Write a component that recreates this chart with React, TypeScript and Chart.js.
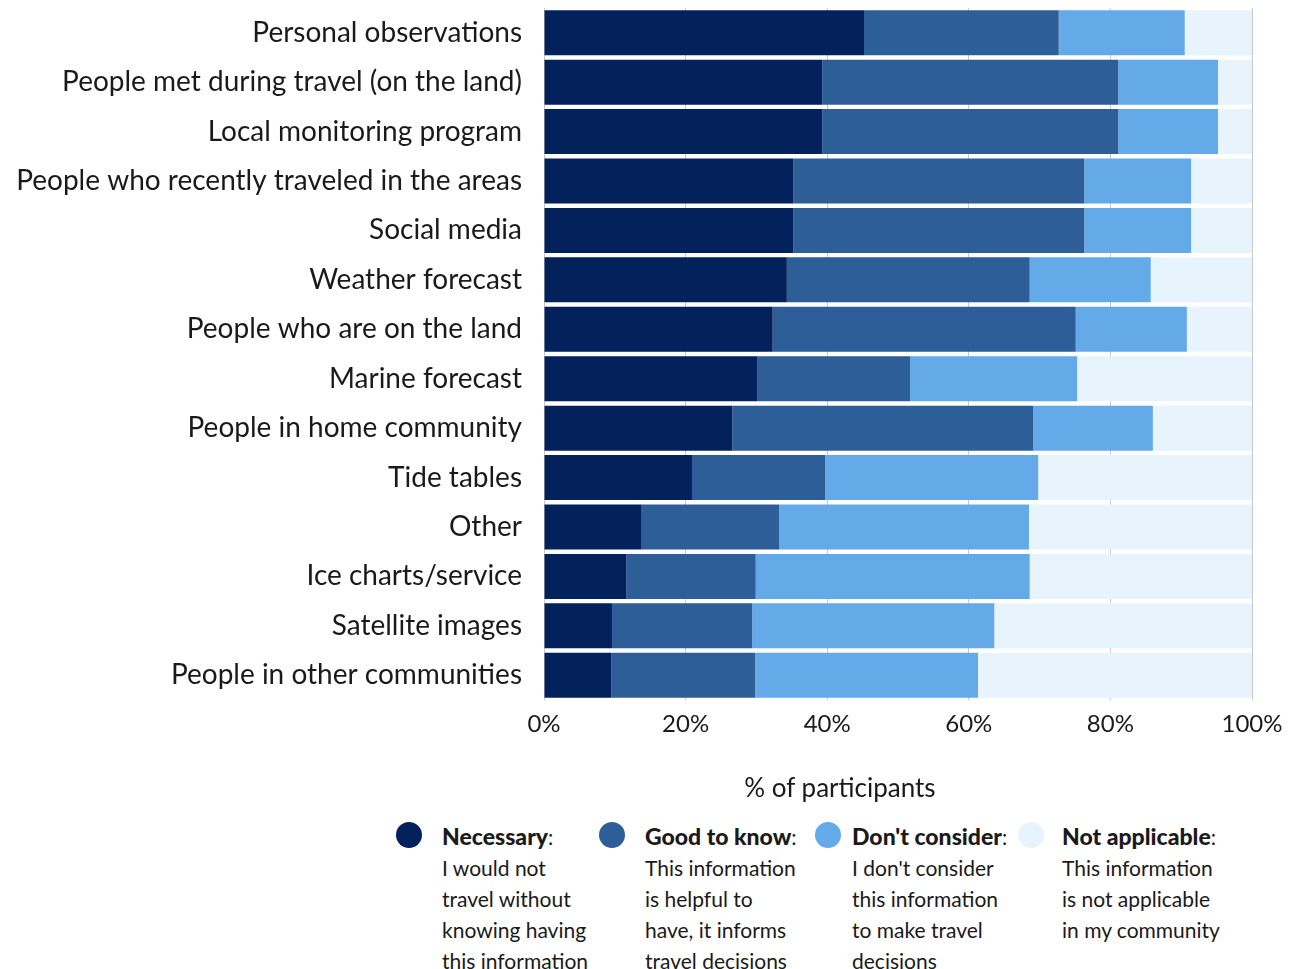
import React, { useEffect, useRef } from "react";
import { Chart, registerables } from "chart.js";

Chart.register(...registerables);

const categories = [
  "Personal observations",
  "People met during travel (on the land)",
  "Local monitoring program",
  "People who recently traveled in the areas",
  "Social media",
  "Weather forecast",
  "People who are on the land",
  "Marine forecast",
  "People in home community",
  "Tide tables",
  "Other",
  "Ice charts/service",
  "Satellite images",
  "People in other communities",
];

const necessary = [45.2, 39.3, 39.3, 35.2, 35.2, 34.3, 32.3, 30.1, 26.6, 20.9, 13.8, 11.6, 9.6, 9.5];
const goodToKnow = [27.5, 41.8, 41.8, 41.1, 41.1, 34.3, 42.8, 21.6, 42.5, 18.8, 19.4, 18.3, 19.8, 20.3];
const dontConsider = [17.8, 14.1, 14.1, 15.1, 15.1, 17.1, 15.7, 23.6, 16.9, 30.1, 35.3, 38.7, 34.2, 31.5];
const notApplicable = [9.5, 4.8, 4.8, 8.6, 8.6, 14.3, 9.2, 24.7, 14.0, 30.2, 31.5, 31.4, 36.4, 38.7];

const seriesNames = ["Necessary", "Good to know", "Don't consider", "Not applicable"];
const seriesDescriptions = [
  ["I would not", "travel without", "knowing having", "this information"],
  ["This information", "is helpful to", "have, it informs", "travel decisions"],
  ["I don't consider", "this information", "to make travel", "decisions"],
  ["This information", "is not applicable", "in my community"],
];
const colors = ["#03215A", "#2E5E98", "#64AAE8", "#E8F4FD"];
const xTickValues = [0, 20, 40, 60, 80, 100];
const axisTitle = "% of participants";

const FONT = "Lato, 'Open Sans', sans-serif";

const legendPos = [
  { dot: 409, text: 442 },
  { dot: 612, text: 645 },
  { dot: 828, text: 852 },
  { dot: 1031, text: 1062 },
];

export default function App() {
  const ref = useRef<HTMLCanvasElement | null>(null);

  useEffect(() => {
    if (!ref.current) return;
    const seriesData = [necessary, goodToKnow, dontConsider, notApplicable];
    const chart = new Chart(ref.current, {
      type: "bar",
      data: {
        labels: categories,
        datasets: seriesData.map((d, i) => ({
          label: seriesNames[i],
          data: d,
          backgroundColor: colors[i],
          borderWidth: 0,
          barPercentage: 0.91,
          categoryPercentage: 1,
        })),
      },
      options: {
        indexAxis: "y",
        responsive: false,
        animation: false,
        layout: { padding: { top: 0, right: 35, left: 0, bottom: 0 } },
        plugins: { legend: { display: false }, tooltip: { enabled: false } },
        scales: {
          x: {
            stacked: true,
            min: 0,
            max: 100,
            afterBuildTicks: (scale: any) => {
              scale.ticks = xTickValues.map((v) => ({ value: v }));
            },
            afterFit: (scale: any) => {
              scale.height = 120;
              scale.paddingLeft = 0;
              scale.paddingRight = 0;
            },
            ticks: {
              callback: (v: any) => v + "%",
              font: { family: FONT, size: 24 },
              color: "#1a1a1a",
              padding: 10,
              maxRotation: 0,
            },
            grid: { color: "#c8c8c8", drawTicks: false, lineWidth: 1 },
            border: { display: false },
          },
          y: {
            stacked: true,
            afterFit: (scale: any) => {
              scale.width = 536;
              scale.paddingTop = 0;
              scale.paddingBottom = 0;
            },
            ticks: {
              font: { family: FONT, size: 28 },
              color: "#1a1a1a",
              padding: 14,
            },
            grid: { display: false },
            border: { display: false },
          },
        },
      },
    });
    return () => chart.destroy();
  }, []);

  return (
    <div style={{ position: "relative", width: 1279, height: 961, fontFamily: FONT }}>
      <canvas ref={ref} width={1279} height={812} style={{ display: "block" }} />
      <div
        style={{
          position: "absolute",
          left: 840 - 200 - 8,
          width: 400,
          top: 787 - 16 - 8,
          height: 32,
          lineHeight: "32px",
          fontSize: 26,
          textAlign: "center",
          color: "#1a1a1a",
        }}
      >
        {axisTitle}
      </div>
      {seriesNames.map((name, i) => (
        <div key={name}>
          <div
            style={{
              position: "absolute",
              left: legendPos[i].dot - 13 - 8,
              top: 835 - 13 - 8,
              width: 26,
              height: 26,
              borderRadius: "50%",
              background: colors[i],
            }}
          />
          <div
            style={{
              position: "absolute",
              left: legendPos[i].text - 8,
              top: 821 - 8,
              fontSize: 21,
              lineHeight: "31px",
              color: "#1a1a1a",
              whiteSpace: "nowrap",
            }}
          >
            <div>
              <span style={{ fontWeight: 900, fontSize: 23 }}>{name}</span>:
            </div>
            {seriesDescriptions[i].map((line) => (
              <div key={line}>{line}</div>
            ))}
          </div>
        </div>
      ))}
    </div>
  );
}
